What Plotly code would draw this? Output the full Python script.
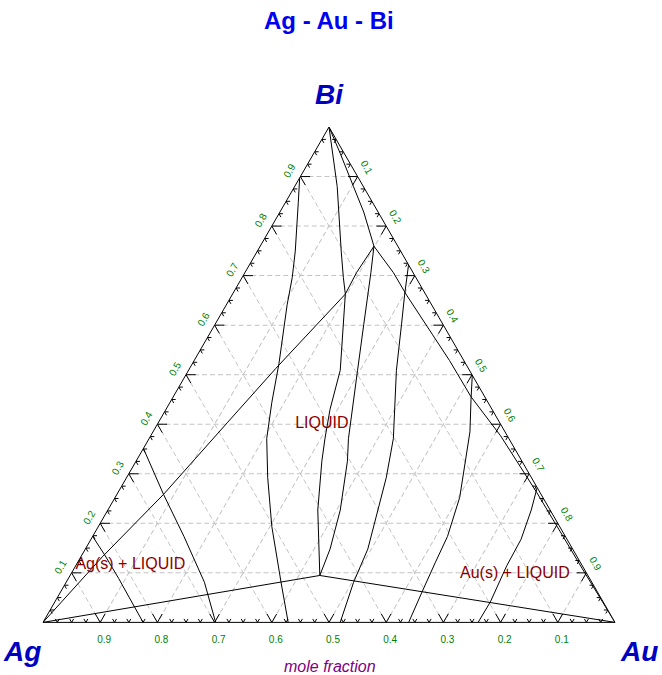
import plotly.graph_objects as go

# ---- Phase-boundary curves: mole fractions of Bi and Au (Ag = 1 - Bi - Au) ----
ag_p_bi = [0.0, 0.0947]
ag_p_au = [0.0, 0.4366]

p_au_bi = [0.0947, 0.0]
p_au_au = [0.4366, 1.0]

ag_k_bi = [0.0, 0.1321, 0.2584, 0.4043, 0.5128, 0.6627, 0.7061, 0.7594]
ag_k_au = [0.0, 0.0375, 0.0815, 0.1210, 0.1507, 0.1972, 0.1951, 0.1989]

bi_k_bi = [1.0, 0.9467, 0.8797, 0.8284, 0.7594]
bi_k_au = [0.0, 0.0463, 0.1030, 0.1465, 0.1989]

k_au_bi = [0.7594, 0.7396, 0.7061, 0.6607, 0.5819, 0.5286, 0.4556, 0.3767, 0.2623, 0.1736, 0.1085, 0.0]
k_au_au = [0.1989, 0.2213, 0.2595, 0.3053, 0.3894, 0.4464, 0.5204, 0.6116, 0.7320, 0.8224, 0.8885, 1.0]

bi_p_bi = [1.0, 0.8797, 0.7495, 0.6963, 0.6627, 0.5089, 0.4300, 0.3708, 0.3254, 0.2268, 0.0947]
bi_p_au = [0.0, 0.0745, 0.1466, 0.1769, 0.1972, 0.2652, 0.2868, 0.3075, 0.3248, 0.3670, 0.4366]

k_p_bi = [0.7594, 0.7061, 0.6016, 0.5089, 0.3708, 0.3254, 0.2268, 0.1479, 0.0947]
k_p_au = [0.1989, 0.2202, 0.2600, 0.2955, 0.3486, 0.3695, 0.4063, 0.4279, 0.4366]

iso1_bi = [0.8974, 0.8481, 0.7495, 0.6963, 0.6410, 0.5227, 0.4438, 0.3708, 0.2919, 0.1933, 0.0809, 0.0]
iso1_au = [0.0, 0.0223, 0.0663, 0.0876, 0.1063, 0.1512, 0.1781, 0.2057, 0.2469, 0.3034, 0.3757, 0.4286]

iso2_bi = [0.7219, 0.6607, 0.6016, 0.5089, 0.3708, 0.2919, 0.1479, 0.0809, 0.0]
iso2_au = [0.2781, 0.3018, 0.3260, 0.3634, 0.4271, 0.4541, 0.4939, 0.5025, 0.5196]

iso3_bi = [0.4990, 0.4497, 0.3846, 0.2525, 0.1736, 0.1203, 0.0611, 0.0]
iso3_au = [0.5010, 0.5234, 0.5541, 0.6023, 0.6204, 0.6255, 0.6320, 0.6393]

iso4_bi = [0.2722, 0.2268, 0.1677, 0.1144, 0.0414, 0.0]
iso4_au = [0.7278, 0.7402, 0.7519, 0.7536, 0.7614, 0.7607]

iso5_bi = [0.3511, 0.2584, 0.1736, 0.0809, 0.0]
iso5_au = [0.0, 0.0815, 0.1596, 0.2418, 0.3018]

iso6_bi = [0.1736, 0.1341, 0.0888, 0.0]
iso6_au = [0.0, 0.0419, 0.0878, 0.1750]

curves = [
    (ag_p_bi, ag_p_au), (p_au_bi, p_au_au), (ag_k_bi, ag_k_au), (bi_k_bi, bi_k_au),
    (k_au_bi, k_au_au), (bi_p_bi, bi_p_au), (k_p_bi, k_p_au), (iso1_bi, iso1_au),
    (iso2_bi, iso2_au), (iso3_bi, iso3_au), (iso4_bi, iso4_au), (iso5_bi, iso5_au),
    (iso6_bi, iso6_au),
]

# ---- Region labels ----
label_text = ["LIQUID", "Ag(s) + LIQUID", "Au(s) + LIQUID"]
label_bi = [0.4004, 0.1164, 0.0986]
label_au = [0.2873, 0.0945, 0.7757]

# ---- Tick values ----
major_ticks = [0.1, 0.2, 0.3, 0.4, 0.5, 0.6, 0.7, 0.8, 0.9]
tick_labels = ["0.1", "0.2", "0.3", "0.4", "0.5", "0.6", "0.7", "0.8", "0.9"]
minor_ticks = [k / 40 for k in range(1, 40) if k % 4 != 0]

fig = go.Figure()

# grid-direction tick marks along the three edges
def tick_marks(values, L):
    A, B, C = [], [], []
    for v in values:
        # bottom edge (Bi = 0), value = Ag
        A += [0, L, None, 0, L, None]
        B += [v, v, None, v, v - L, None]
        C += [1 - v, 1 - v - L, None, 1 - v, 1 - v, None]
        # left edge (Au = 0), value = Bi
        A += [v, v, None, v, v - L, None]
        B += [1 - v, 1 - v - L, None, 1 - v, 1 - v, None]
        C += [0, L, None, 0, L, None]
        # right edge (Ag = 0), value = Au
        A += [1 - v, 1 - v, None, 1 - v, 1 - v - L, None]
        B += [0, L, None, 0, L, None]
        C += [v, v - L, None, v, v, None]
    return A, B, C

for vals, L in [(major_ticks, 0.017), (minor_ticks, 0.007)]:
    A, B, C = tick_marks(vals, L)
    fig.add_trace(go.Scatterternary(a=A, b=B, c=C, mode="lines",
                                    line=dict(color="black", width=1),
                                    hoverinfo="skip", showlegend=False))

for bi, au in curves:
    ag = [1 - x - y for x, y in zip(bi, au)]
    fig.add_trace(go.Scatterternary(a=bi, b=ag, c=au, mode="lines",
                                    line=dict(color="black", width=1),
                                    hoverinfo="skip", showlegend=False))

fig.add_trace(go.Scatterternary(
    a=label_bi, b=[1 - x - y for x, y in zip(label_bi, label_au)], c=label_au,
    mode="text", text=label_text,
    textfont=dict(family="Liberation Sans, Arial, sans-serif", size=16, color="#8B0000"),
    hoverinfo="skip", showlegend=False))

tickfont = dict(family="Liberation Sans, Arial, sans-serif", size=10, color="#008000")
axis_common = dict(
    min=0, showline=True, linecolor="black", linewidth=1,
    showgrid=True, gridcolor="#c4c4c4", gridwidth=1, griddash="5px,3px",
    tickmode="array", tickvals=major_ticks, ticktext=tick_labels,
    ticks="outside", ticklen=4, tickcolor="rgba(0,0,0,0)",
    tickfont=tickfont, title=dict(text=""),
)

fig.update_layout(
    width=662, height=675, autosize=False,
    margin=dict(l=0, r=0, t=0, b=0),
    paper_bgcolor="white",
    ternary=dict(
        domain=dict(x=[43 / 662, 615 / 662], y=[0.0770, 0.8128]),
        bgcolor="white", sum=1,
        aaxis=dict(axis_common, tickangle=-60),
        baxis=dict(axis_common, tickangle=0, ticklen=8),
        caxis=dict(axis_common, tickangle=60),
    ),
    annotations=[
        dict(text="<b>Ag - Au - Bi</b>", x=329 / 662, y=(675 - 20) / 675, xref="paper", yref="paper",
             showarrow=False, xanchor="center", yanchor="middle",
             font=dict(family="Liberation Sans, Arial, sans-serif", size=24, color="#0000F0")),
        dict(text="<b><i>Bi</i></b>", x=329.5 / 662, y=(675 - 94) / 675, xref="paper", yref="paper",
             showarrow=False, xanchor="center", yanchor="middle",
             font=dict(family="Liberation Sans, Arial, sans-serif", size=28, color="#0000C0")),
        dict(text="<b><i>Ag</i></b>", x=22 / 662, y=(675 - 651) / 675, xref="paper", yref="paper",
             showarrow=False, xanchor="center", yanchor="middle",
             font=dict(family="Liberation Sans, Arial, sans-serif", size=28, color="#0000C0")),
        dict(text="<b><i>Au</i></b>", x=639 / 662, y=(675 - 651) / 675, xref="paper", yref="paper",
             showarrow=False, xanchor="center", yanchor="middle",
             font=dict(family="Liberation Sans, Arial, sans-serif", size=28, color="#0000C0")),
        dict(text="<i>mole fraction</i>", x=330 / 662, y=(675 - 666) / 675, xref="paper", yref="paper",
             showarrow=False, xanchor="center", yanchor="middle",
             font=dict(family="Liberation Sans, Arial, sans-serif", size=16, color="#800080")),
    ],
)

fig.write_html("out.html", config={"displayModeBar": False},
               post_script="document.body.style.margin='0';document.body.style.overflow='hidden';")
